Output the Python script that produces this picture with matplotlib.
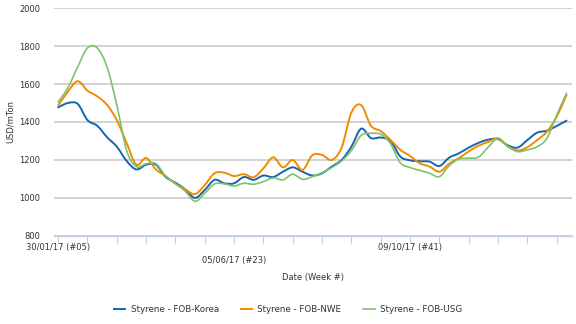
import matplotlib
matplotlib.use("Agg")
import matplotlib.pyplot as plt
from matplotlib.path import Path
from matplotlib.patches import PathPatch
from matplotlib.lines import Line2D
import numpy as np

# weekly prices (USD/mTon), week 5 of 2017 to week 5 of 2018
weeks = list(range(5, 58))
korea = [1477, 1500, 1495, 1410, 1380, 1320, 1270, 1195, 1150, 1175,
         1175, 1110, 1080, 1045, 1000, 1042, 1095, 1077, 1077, 1110,
         1095, 1118, 1110, 1138, 1161, 1138, 1118, 1130, 1165, 1200,
         1270, 1365, 1315, 1318, 1300, 1218, 1198, 1193, 1191, 1168,
         1212, 1235, 1265, 1290, 1307, 1310, 1277, 1265, 1305, 1344,
         1354, 1379, 1407]
nwe = [1487, 1560, 1615, 1565, 1535, 1490, 1410, 1290, 1175, 1210,
       1150, 1115, 1075, 1045, 1020, 1068, 1130, 1133, 1115, 1125,
       1109, 1156, 1214, 1161, 1200, 1147, 1225, 1226, 1200, 1265,
       1450, 1489, 1380, 1352, 1305, 1253, 1221, 1182, 1165, 1138,
       1180, 1210, 1245, 1275, 1295, 1314, 1272, 1250, 1267, 1305,
       1349, 1428, 1542]
usg = [1505, 1580, 1690, 1790, 1790, 1690, 1490, 1250, 1165, 1180,
       1180, 1115, 1075, 1035, 982, 1025, 1074, 1074, 1063, 1077,
       1072, 1086, 1105, 1095, 1125, 1098, 1112, 1133, 1160, 1195,
       1250, 1330, 1340, 1335, 1285, 1185, 1160, 1145, 1130, 1112,
       1170, 1205, 1209, 1215, 1268, 1314, 1270, 1244, 1253, 1270,
       1314, 1437, 1551]

series_names = ["Styrene - FOB-Korea", "Styrene - FOB-NWE", "Styrene - FOB-USG"]
colors = ["#1565b0", "#f28a00", "#7dc36c"]

tick_weeks = list(range(5, 57, 3))
label_weeks = [5, 23, 41]
label_texts = ["30/01/17 (#05)", "05/06/17 (#23)", "09/10/17 (#41)"]


def smooth_path(x, y):
    # curved line through the points (Catmull-Rom drawn as Bezier segments)
    x = np.asarray(x, float)
    y = np.asarray(y, float)
    verts = [(x[0], y[0])]
    codes = [Path.MOVETO]
    n = len(x)
    for i in range(n - 1):
        i0 = max(i - 1, 0)
        i3 = min(i + 2, n - 1)
        c1 = (x[i] + (x[i + 1] - x[i0]) / 6, y[i] + (y[i + 1] - y[i0]) / 6)
        c2 = (x[i + 1] - (x[i3] - x[i]) / 6, y[i + 1] - (y[i3] - y[i]) / 6)
        verts += [c1, c2, (x[i + 1], y[i + 1])]
        codes += [Path.CURVE4] * 3
    return Path(verts, codes)


fig = plt.figure(figsize=(5.76, 3.24), dpi=100)
ax = fig.add_axes([0.094, 0.272, 0.899, 0.703])

handles = []
for vals, name, c in zip([korea, nwe, usg], series_names, colors):
    lw = 1.2 if c == "#7dc36c" else 1.4
    ax.add_patch(PathPatch(smooth_path(weeks, vals), fill=False,
                           edgecolor=c, lw=lw, capstyle="round"))
    handles.append(Line2D([], [], color=c, lw=lw, label=name))

ax.set_xlim(4.59, 57.56)
ax.set_ylim(800, 2000)
ax.set_yticks(range(800, 2001, 200))
ax.yaxis.grid(True, color="#c6c6c6", lw=1.1)
ax.set_axisbelow(True)
for s in ["top", "right", "left"]:
    ax.spines[s].set_visible(False)
ax.spines["bottom"].set_color("#c0cfe0")
ax.spines["bottom"].set_linewidth(1.0)
ax.tick_params(axis="y", length=0, pad=10, labelsize=6, labelcolor="#333333")
ax.set_xticks(tick_weeks)
ax.set_xticklabels([])
ax.tick_params(axis="x", length=5, color="#c0cfe0", width=0.8)

for i, (w, t) in enumerate(zip(label_weeks, label_texts)):
    off = -12 if i % 2 == 0 else -25
    ax.annotate(t, xy=(w, 0), xycoords=("data", "axes fraction"),
                xytext=(0, off), textcoords="offset pixels",
                ha="center", va="center", fontsize=6, color="#333333")

ax.set_ylabel("USD/mTon", fontsize=6, color="#333333", labelpad=3)
ax.set_xlabel("Date (Week #)", fontsize=6, color="#333333", labelpad=18)

fig.legend(handles=handles, loc="center", bbox_to_anchor=(0.5, 1 - 310 / 324),
           ncol=3, frameon=False, fontsize=6.3, handlelength=1.3,
           columnspacing=2.5, handletextpad=0.6, labelcolor="#333333")

fig.savefig("out.png", dpi=100)
